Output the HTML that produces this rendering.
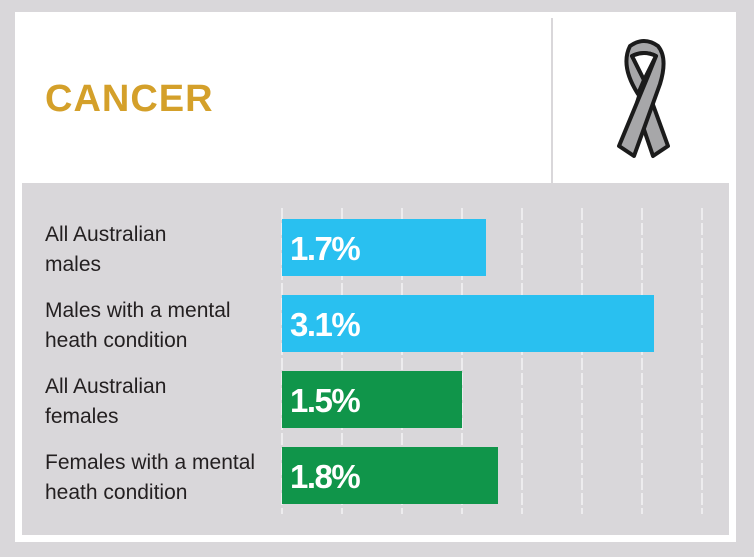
<!DOCTYPE html>
<html><head><meta charset="utf-8"><style>
body{margin:0;width:754px;height:557px;background:#d9d7da;position:relative;overflow:hidden;font-family:"Liberation Sans",sans-serif}
.abs{position:absolute}
</style></head><body>
<div class="abs" style="left:15px;top:12px;width:721px;height:530px;background:#fff"></div>
<div class="abs" style="left:45px;top:78px;font-size:38px;font-weight:bold;color:#d4a02a;letter-spacing:1px">CANCER</div>
<div class="abs" style="left:551px;top:18px;width:2px;height:165px;background:#d9d7da"></div>
<svg class="abs" style="left:608px;top:36px" width="72" height="126" viewBox="0 0 72 126">
<path d="M36 44 L60 110 L45 120 L28 70 Z" fill="#a7a7a9" stroke="#1b1b1b" stroke-width="4" stroke-linejoin="round"/>
<path d="M22 10 Q36 0 50 10 Q60 22 52 48 L26 120 L11 110 L40 40 L48 20 Q36 14 24 20 L36 44 L30 58 Q12 30 22 10 Z" fill="#a7a7a9" stroke="#1b1b1b" stroke-width="4" stroke-linejoin="round"/>
<path d="M24 20 Q36 14 48 20 L36 44 Z" fill="#fff" stroke="#1b1b1b" stroke-width="4" stroke-linejoin="round"/>
</svg>
<div class="abs" style="left:22px;top:183px;width:707px;height:352px;background:#d9d7da"></div>
<svg class="abs" id="chart" style="left:0;top:0" width="754" height="557"></svg>
<script>
const categories=["All Australian|males","Males with a mental|heath condition","All Australian|females","Females with a mental|heath condition"];
const values=[1.7,3.1,1.5,1.8];
const valueLabels=["1.7%","3.1%","1.5%","1.8%"];
const colors=["#29c0f0","#29c0f0","#10954a","#10954a"];
const gridTicks=[0,0.5,1,1.5,2,2.5,3,3.5];
const svg=document.getElementById('chart');
const NS='http://www.w3.org/2000/svg';
const x=v=>282+v*120;
const y=i=>219+i*76;
function mk(t,a){const e=document.createElementNS(NS,t);for(const k in a)e.setAttribute(k,a[k]);svg.appendChild(e);return e;}
gridTicks.forEach(t=>{const l=mk('line',{x1:x(t),x2:x(t),y1:208,y2:514,stroke:'#f4f4f4','stroke-width':1.5,'stroke-dasharray':'12 3'});

});
values.forEach((v,i)=>{
const r=mk('rect',{x:x(0),y:y(i),width:x(v)-x(0),height:57,fill:colors[i]});


const t=mk('text',{x:x(0)+8,y:y(i)+41,fill:'#fff','font-size':33,'font-weight':'bold','font-family':'Liberation Sans, sans-serif','letter-spacing':'-1.5'});
t.textContent=valueLabels[i];


categories[i].split('|').forEach((s,j)=>{const c=mk('text',{x:45,y:y(i)+22+j*30,fill:'#231f20','font-size':21,'font-family':'Liberation Sans, sans-serif'});c.textContent=s;

});
});
</script>
</body></html>
